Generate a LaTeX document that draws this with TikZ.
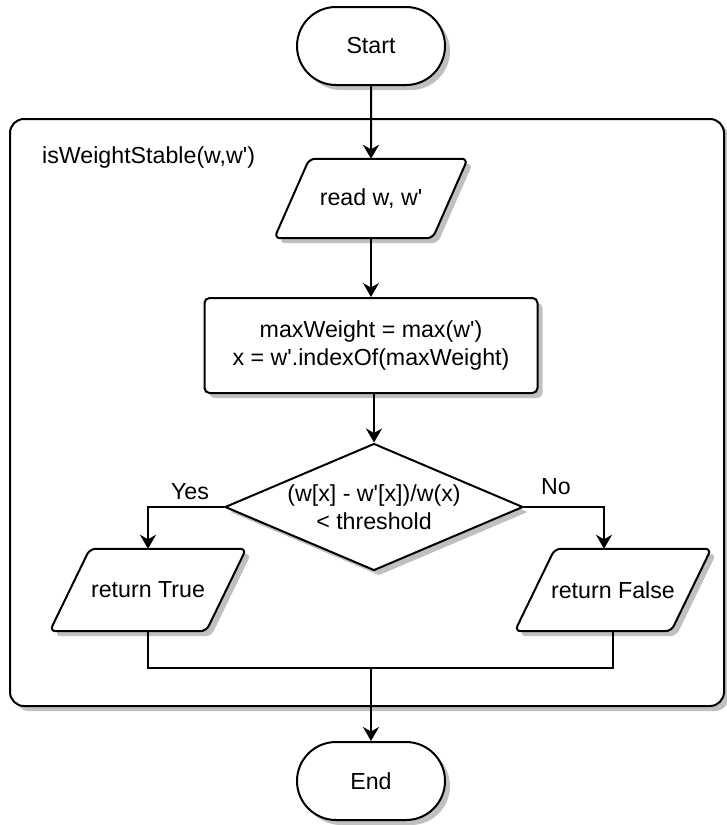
\documentclass[tikz,border=0pt]{standalone}
\usepackage{fontspec}
\setmainfont{Liberation Sans}
\usetikzlibrary{shapes.misc,shapes.geometric,shadows,arrows.meta,calc}

\definecolor{shadowgray}{RGB}{192,192,192}
% straight apostrophe
\newcommand{\ap}{\textquotesingle}

\pgfdeclarelayer{bg}
\pgfdeclarelayer{shapes}
\pgfsetlayers{bg,shapes,main}

\begin{document}
\begin{tikzpicture}[
  x=1pt, y=-1pt,
  font=\fontsize{23.2}{28}\selectfont,
  line/.style={line width=2pt},
  arr/.style={line, -{Stealth[length=14pt,width=16pt,inset=4.5pt]}},
  shade/.style={drop shadow={shadow xshift=5pt, shadow yshift=-5pt, fill=shadowgray, opacity=1}},
  term/.style={rounded rectangle, draw, line, fill=white, shade,
    minimum width=148pt, minimum height=78pt, inner sep=0pt},
  procbox/.style={rectangle, rounded corners=5pt, draw, line, fill=white, shade,
    minimum width=333pt, minimum height=95pt, align=center, inner sep=0pt},
  decision/.style={diamond, draw, line, fill=white, shade, aspect=2.35,
    minimum width=298pt, minimum height=127pt, align=center, inner sep=0pt},
  iotext/.style={rectangle, inner sep=0pt, minimum width=#1},
  ioshape/.style={draw, line, fill=white, shade, rounded corners=6pt},
  tag/.style={inner sep=0pt}
]
% page extent
\useasboundingbox (0,0) rectangle (726,825);

% nodes
\node[term] (start) at (371,46) {Start};
\node[iotext=193pt, minimum height=79pt] (read) at (371,198.5) {read w, w\ap};
\node[procbox] (proc) at (371,345.5) {maxWeight = max(w\ap)\\x = w\ap.indexOf(maxWeight)};
\node[decision] (dia) at (374,507) {(w[x] - w\ap[x])/w(x)\\< threshold};
\node[iotext=196pt, minimum height=82pt] (true) at (148,590) {return True};
\node[iotext=196pt, minimum height=82pt] (false) at (613,590) {return False};
\node[term] (end) at (371,781) {End};
\node[tag, anchor=west] (title) at (42,157) {isWeightStable(w,w\ap)};
\node[tag] (yes) at (190,492) {Yes};
\node[tag] (no) at (556,487) {No};
\coordinate (mrg) at (371,668);

% function container
\begin{pgfonlayer}{bg}
  \draw[line, fill=white, shade, rounded corners=14pt] (10,119) rectangle (724,706);
\end{pgfonlayer}

% parallelogram outlines of the input/output nodes
\begin{pgfonlayer}{shapes}
  \draw[ioshape] ($(read.north west)+(35,0)$) -- (read.north east)
    -- ($(read.south east)-(35,0)$) -- (read.south west) -- cycle;
  \draw[ioshape] ($(true.north west)+(40,0)$) -- (true.north east)
    -- ($(true.south east)-(40,0)$) -- (true.south west) -- cycle;
  \draw[ioshape] ($(false.north west)+(40,0)$) -- (false.north east)
    -- ($(false.south east)-(40,0)$) -- (false.south west) -- cycle;
\end{pgfonlayer}

% connectors
\draw[arr] (start) -- (read);
\draw[arr] (read) -- (proc);
\draw[arr] (proc.south -| dia.north) -- (dia.north);
\draw[arr] (dia.west) -| (true.north);
\draw[arr] (dia.east) -| ([xshift=-9pt]false.north);
\draw[line] (true.south) |- (mrg);
\draw[line] (false.south) |- (mrg);
\draw[arr] (mrg) -- (end.north);
\end{tikzpicture}
\end{document}
